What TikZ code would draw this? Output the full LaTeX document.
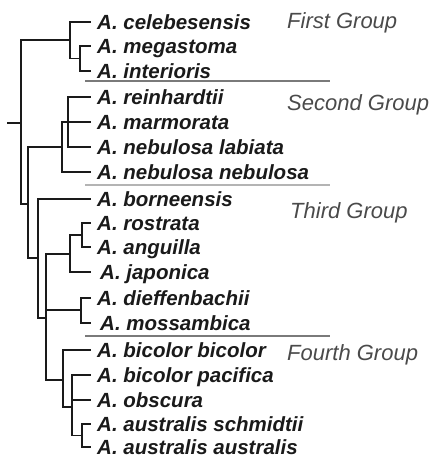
\documentclass[tikz,border=0pt]{standalone}
\usepackage{fontspec}
\setmainfont{Liberation Sans}
\definecolor{treeink}{HTML}{1A1A1A}
\definecolor{grouptext}{HTML}{4A4A4A}
\definecolor{sepdark}{HTML}{7A7A7A}
\definecolor{seplight}{HTML}{B4B4B4}
\begin{document}
\begin{tikzpicture}[x=1pt,y=-1pt,
  leaf/.style={anchor=west,inner xsep=7pt,inner ysep=0pt,text height=14.6pt,text depth=0pt,
    font=\fontsize{20.5}{22}\selectfont\bfseries\itshape,text=treeink},
  grouplabel/.style={anchor=base west,inner sep=0pt,font=\fontsize{22}{24}\selectfont\itshape,text=grouptext},
  branch/.style={draw=treeink,line width=1.9pt,line cap=rect},
  separator/.style={line width=1.2pt}]
\useasboundingbox (0,0) rectangle (438,458);
% leaves
\node[leaf] (l1) at (90,22) {A. celebesensis};
\node[leaf] (l2) at (90,46) {A. megastoma};
\node[leaf] (l3) at (90,71) {A. interioris};
\node[leaf] (l4) at (90,97) {A. reinhardtii};
\node[leaf] (l5) at (90,122) {A. marmorata};
\node[leaf] (l6) at (90,147) {A. nebulosa labiata};
\node[leaf] (l7) at (90,172) {A. nebulosa nebulosa};
\node[leaf] (l8) at (90,199) {A. borneensis};
\node[leaf] (l9) at (90,223) {A. rostrata};
\node[leaf] (l10) at (90,247) {A. anguilla};
\node[leaf,inner xsep=10pt] (l11) at (90,272) {A. japonica};
\node[leaf] (l12) at (90,298) {A. dieffenbachii};
\node[leaf,inner xsep=10pt] (l13) at (90,323) {A. mossambica};
\node[leaf] (l14) at (90,350) {A. bicolor bicolor};
\node[leaf] (l15) at (90,375) {A. bicolor pacifica};
\node[leaf] (l16) at (90,400) {A. obscura};
\node[leaf] (l17) at (90,424) {A. australis schmidtii};
\node[leaf] (l18) at (90,447) {A. australis australis};
% internal nodes
\coordinate (r0) at (8,123);
\coordinate (r) at (21,123);
\coordinate (a) at (70,40);
\coordinate (k) at (80,58.5);
\coordinate (b) at (28,204);
\coordinate (L) at (62,147);
\coordinate (M) at (68,122);
\coordinate (c) at (38,258);
\coordinate (e) at (46,318);
\coordinate (f) at (70,254);
\coordinate (g) at (82,235);
\coordinate (dm) at (81,310);
\coordinate (h) at (63,380);
\coordinate (i) at (72,407);
\coordinate (j) at (82,435.5);
% branches
\draw[branch] (r0) -- (r);
\draw[branch] (r) |- (a);
\draw[branch] (r) |- (b);
\draw[branch] (a) |- (l1.west);
\draw[branch] (a) |- (k);
\draw[branch] (k) |- (l2.west);
\draw[branch] (k) |- (l3.west);
\draw[branch] (b) |- (L);
\draw[branch] (b) |- (c);
\draw[branch] (L) |- (M);
\draw[branch] (L) |- (l7.west);
\draw[branch] (M) |- (l4.west);
\draw[branch] (M) |- (l5.west);
\draw[branch] (M) |- (l6.west);
\draw[branch] (c) |- (l8.west);
\draw[branch] (c) |- (e);
\draw[branch] (e) |- (f);
\draw[branch] (e) |- (dm);
\draw[branch] (e) |- (h);
\draw[branch] (f) |- (g);
\draw[branch] (f) |- (l11.west);
\draw[branch] (g) |- (l9.west);
\draw[branch] (g) |- (l10.west);
\draw[branch] (dm) |- (l12.west);
\draw[branch] (dm) |- (l13.west);
\draw[branch] (h) |- (l14.west);
\draw[branch] (h) |- (i);
\draw[branch] (i) |- (l15.west);
\draw[branch] (i) |- (l16.west);
\draw[branch] (i) |- (j);
\draw[branch] (j) |- (l17.west);
\draw[branch] (j) |- (l18.west);
% separators
\draw[separator,sepdark] (85,81) -- (330,81);
\draw[separator,seplight] (85,185) -- (330,185);
\draw[separator,sepdark] (85,336) -- (330,336);
% group labels
\node[grouplabel] (g1) at (287,28) {First Group};
\node[grouplabel] (g2) at (287,110) {Second Group};
\node[grouplabel] (g3) at (290,218) {Third Group};
\node[grouplabel] (g4) at (287,360) {Fourth Group};
\end{tikzpicture}
\end{document}
